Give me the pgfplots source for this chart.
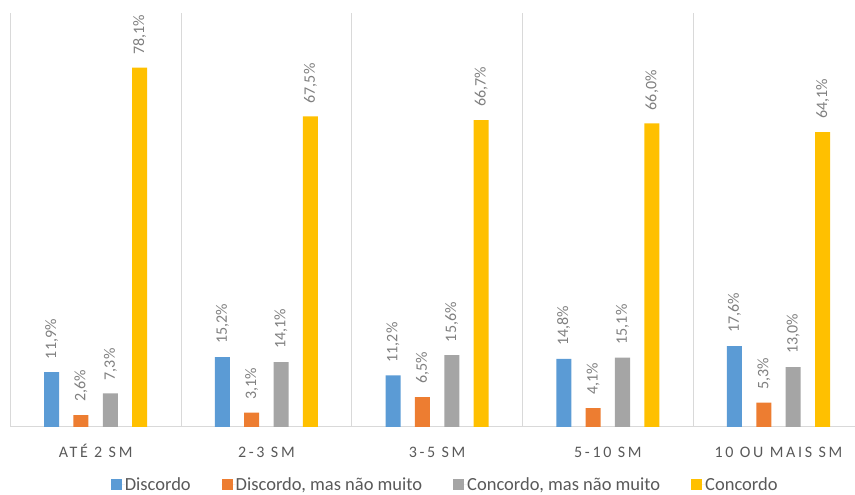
\documentclass[border=0pt]{standalone}
\usepackage{fontspec}
\setmainfont{Carlito}
\newfontfamily\spaced[LetterSpace=17]{Carlito}
\usepackage{pgfplots}
\pgfplotsset{compat=1.18}
\definecolor{cblue}{HTML}{5B9BD5}
\definecolor{corange}{HTML}{ED7D31}
\definecolor{cgray}{HTML}{A5A5A5}
\definecolor{cyellow}{HTML}{FFC000}
\definecolor{linegray}{HTML}{D9D9D9}
\definecolor{txtdark}{HTML}{595959}
\definecolor{txtlight}{HTML}{808080}
\begin{document}
\begin{tikzpicture}
\begin{axis}[
  name=ax,
  scale only axis,
  width=844.7pt, height=414pt,
  xmin=-0.5, xmax=4.448,
  ymin=0, ymax=90,
  ybar,
  hide y axis,
  axis x line=bottom,
  x axis line style={-, draw=linegray, line width=1pt},
  xtick={0,1,2,3,4},
  xticklabels={ATÉ 2 SM, 2-3 SM, 3-5 SM, 5-10 SM, 10 OU MAIS SM},
  major tick length=0pt,
  minor tick length=0pt,
  minor xtick={-0.5,0.5,1.5,2.5,3.5},
  xminorgrids,
  minor grid style={draw=linegray, line width=1pt},
  xticklabel style={font=\spaced\fontsize{16}{18}\selectfont, text=txtdark, anchor=base, yshift=-31pt},
  bar width=0.088,
  nodes near coords={\pgfmathprintnumber[fixed,fixed zerofill,precision=1,use comma,assume math mode=true]{\pgfplotspointmeta}\%},
  nodes near coords style={font=\fontsize{16}{18}\selectfont, text=txtlight, rotate=90, anchor=west, inner sep=0pt, inner xsep=13pt},
  legend columns=4,
  legend style={draw=none, fill=none, at={(0.5137,-0.140)}, anchor=center,
    font=\fontsize{18.5}{21}\selectfont, text=txtdark,
    nodes={inner sep=0pt},
    /tikz/every even column/.append style={column sep=31pt}},
  legend image code/.code={\fill[#1] (0pt,-5.5pt) rectangle (11pt,5.5pt); \path (0pt,0pt) -- (14pt,0pt);},
]
\addplot[bar shift=-0.258, fill=cblue, draw=none] coordinates {(0,11.9) (1,15.2) (2,11.2) (3,14.8) (4,17.6)};
\addplot[bar shift=-0.086, fill=corange, draw=none] coordinates {(0,2.6) (1,3.1) (2,6.5) (3,4.1) (4,5.3)};
\addplot[bar shift=0.086, fill=cgray, draw=none] coordinates {(0,7.3) (1,14.1) (2,15.6) (3,15.1) (4,13.0)};
\addplot[bar shift=0.258, fill=cyellow, draw=none] coordinates {(0,78.1) (1,67.5) (2,66.7) (3,66.0) (4,64.1)};
\legend{Discordo, {Discordo, mas não muito}, {Concordo, mas não muito}, Concordo}
\end{axis}
\pgfresetboundingbox
\path ([shift={(-10.3pt,-68pt)}]ax.south west) rectangle ([shift={(0pt,13pt)}]ax.north east);
\end{tikzpicture}
\end{document}
